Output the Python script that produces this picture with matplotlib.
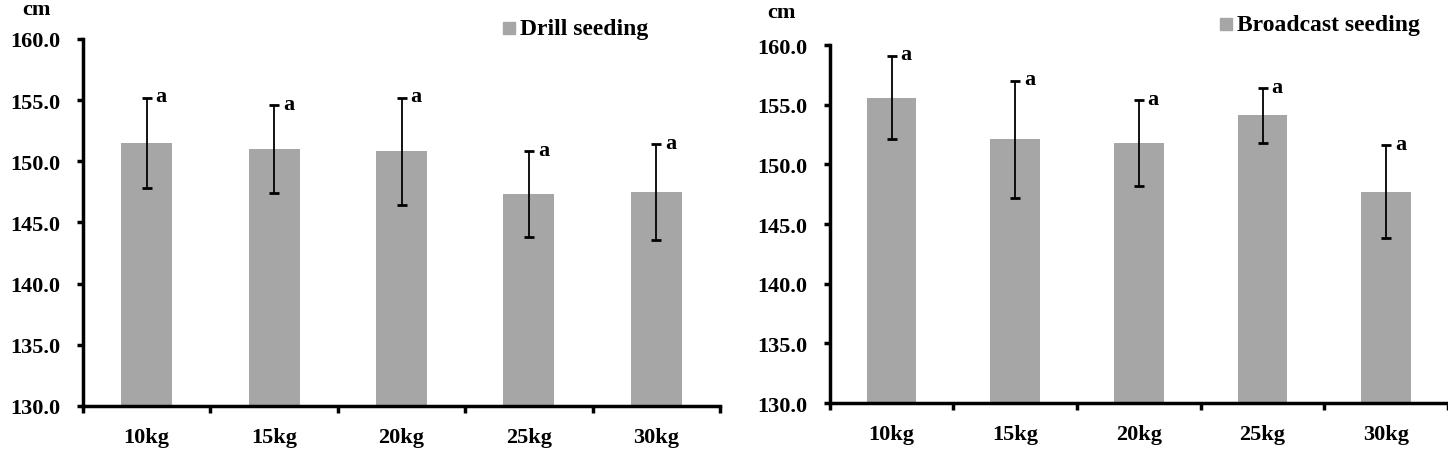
import matplotlib.pyplot as plt
from matplotlib.patches import Rectangle
import numpy as np

# seeding rate categories and plant height (cm)
rates = ['10kg', '15kg', '20kg', '25kg', '30kg']

drill_mean = [151.5, 151.0, 150.8, 147.3, 147.5]
drill_sd = [3.7, 3.6, 4.4, 3.5, 3.9]

broad_mean = [155.6, 152.1, 151.8, 154.1, 147.7]
broad_sd = [3.5, 4.9, 3.6, 2.3, 3.9]

letters_drill = ['a', 'a', 'a', 'a', 'a']
letters_broad = ['a', 'a', 'a', 'a', 'a']

plt.rcParams['font.family'] = ['Liberation Serif', 'DejaVu Serif']
plt.rcParams['font.weight'] = 'bold'

fig = plt.figure(figsize=(14.48, 4.56), dpi=100)
ax1 = fig.add_axes([0.0573, 0.1075, 0.44, 0.805])
ax2 = fig.add_axes([0.573, 0.114, 0.427, 0.785])

grey = '#a6a6a6'


def panel(ax, mean, sd, letters, label, sq_xy, text_x, text_y, cm_xy):
    x = np.arange(len(rates))
    ax.bar(x, mean, width=0.4, color=grey, zorder=2)
    ax.errorbar(x, mean, yerr=sd, fmt='none', ecolor='black',
                elinewidth=1.3, capsize=3.5, capthick=2, zorder=3)
    for xi, m, s, t in zip(x, mean, sd, letters):
        ax.text(xi + 0.07, m + s - 0.3, t, fontsize=16, fontweight='bold',
                ha='left', va='baseline')
    ax.set_xlim(-0.5, len(rates) - 0.5)
    ax.set_ylim(130, 160)
    ax.set_yticks(np.arange(130, 161, 5))
    ax.set_yticklabels([f'{v:.1f}' for v in np.arange(130, 161, 5)])
    ax.set_xticks(x)
    ax.set_xticklabels(rates)
    ax.set_xticks(np.arange(-0.5, len(rates), 1), minor=True)
    ax.tick_params(axis='x', which='major', length=0, pad=15, labelsize=16)
    ax.tick_params(axis='x', which='minor', length=5, width=2.5, direction='out')
    ax.tick_params(axis='y', length=4, width=2.5, direction='out', pad=12,
                   labelsize=16)
    for s in ['top', 'right']:
        ax.spines[s].set_visible(False)
    for s in ['left', 'bottom']:
        ax.spines[s].set_linewidth(2.5)
    for lab in ax.get_xticklabels() + ax.get_yticklabels():
        lab.set_fontweight('bold')
    fig.add_artist(Rectangle(sq_xy, 0.0083, 0.0263, color=grey,
                             transform=fig.transFigure))
    fig.text(text_x, text_y, label, fontsize=17, fontweight='bold',
             ha='left', va='center')
    fig.text(cm_xy[0], cm_xy[1], 'cm', fontsize=16, fontweight='bold',
             ha='left', va='center')


panel(ax1, drill_mean, drill_sd, letters_drill, 'Drill seeding',
      (0.3474, 0.923), 0.359, 0.936, (0.0152, 0.978))
panel(ax2, broad_mean, broad_sd, letters_broad, 'Broadcast seeding',
      (0.8425, 0.932), 0.854, 0.945, (0.530, 0.972))

fig.savefig('out.png', dpi=100)
